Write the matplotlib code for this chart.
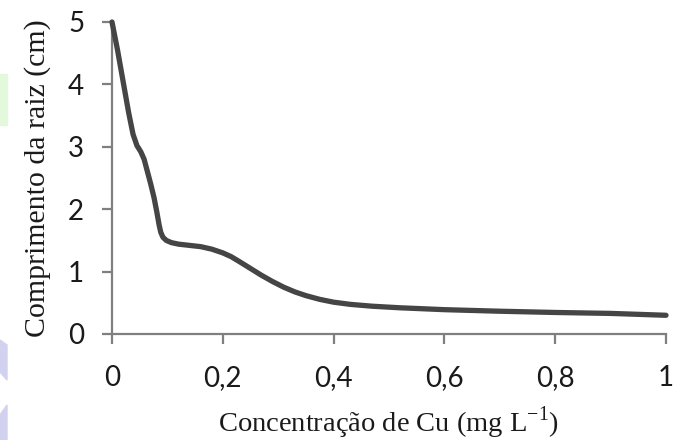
import matplotlib.pyplot as plt
from matplotlib.patches import Rectangle, Polygon

# root length vs Cu concentration
conc = [0.0, 0.01, 0.02, 0.03, 0.038, 0.045, 0.052, 0.058, 0.064, 0.07, 0.076,
        0.081, 0.085, 0.088, 0.092, 0.098, 0.107, 0.12, 0.14, 0.16, 0.18, 0.2,
        0.215, 0.23, 0.25, 0.27, 0.29, 0.31, 0.33, 0.35, 0.375, 0.4, 0.43, 0.47,
        0.52, 0.6, 0.7, 0.8, 0.9, 1.0]
root_len = [5.0, 4.55, 4.05, 3.55, 3.2, 3.02, 2.92, 2.8, 2.6, 2.4, 2.18,
            1.95, 1.75, 1.63, 1.55, 1.50, 1.465, 1.44, 1.42, 1.40, 1.36, 1.30,
            1.24, 1.16, 1.05, 0.94, 0.84, 0.75, 0.675, 0.615, 0.555, 0.51, 0.475, 0.445,
            0.42, 0.39, 0.365, 0.345, 0.33, 0.30]
xticks = [0, 0.2, 0.4, 0.6, 0.8, 1]
xtick_labels = ['0', '0,2', '0,4', '0,6', '0,8', '1']
yticks = [0, 1, 2, 3, 4, 5]

spine_col = '#7f7f7f'
text_col = '#1a1a1a'

fig = plt.figure(figsize=(6.73, 4.40), dpi=100)
ax = fig.add_axes([112 / 673, 1 - 334 / 440, 554 / 673, 312 / 440])

ax.plot(conc, root_len, color='#454545', lw=3.8, solid_joinstyle='round',
        solid_capstyle='round', clip_on=False, zorder=3)

ax.set_xlim(0, 1)
ax.set_ylim(0, 5)
ax.set_xticks(xticks)
ax.set_xticklabels(xtick_labels)
ax.set_yticks(yticks)

for s in ['top', 'right']:
    ax.spines[s].set_visible(False)
for s in ['left', 'bottom']:
    ax.spines[s].set_color(spine_col)
    ax.spines[s].set_linewidth(1.6)

ax.tick_params(axis='both', direction='out', length=7, width=1.6, color=spine_col,
               labelsize=20, labelcolor=text_col)
ax.tick_params(axis='x', pad=15)
ax.tick_params(axis='y', pad=13)
for lab in ax.get_xticklabels() + ax.get_yticklabels():
    lab.set_family('Lato')

ax.set_xlabel('Concentração de Cu (mg L$^{\\mathregular{-1}}$)', family='Liberation Serif',
              fontsize=20.5, color=text_col, labelpad=10)
ax.set_ylabel('Comprimento da raiz (cm)', family='Liberation Serif',
              fontsize=21.5, color=text_col, labelpad=12)

# faint watermark bits on the left edge
fig.patches.append(Rectangle((0, 1 - 125 / 440), 7 / 673, 51 / 440,
                             transform=fig.transFigure, color='#e4f8dc', zorder=0))
fig.patches.append(Polygon([(0, 1 - 340 / 440), (7 / 673, 1 - 345 / 440),
                            (7 / 673, 1 - 380 / 440), (0, 1 - 372 / 440)],
                           closed=True, transform=fig.transFigure, color='#d2d2f0', zorder=0))
fig.patches.append(Polygon([(0, 1 - 415 / 440), (7 / 673, 1 - 405 / 440),
                            (7 / 673, 1 - 440 / 440), (0, 0)],
                           closed=True, transform=fig.transFigure, color='#d2d2f0', zorder=0))

fig.savefig('out.png', dpi=100)
